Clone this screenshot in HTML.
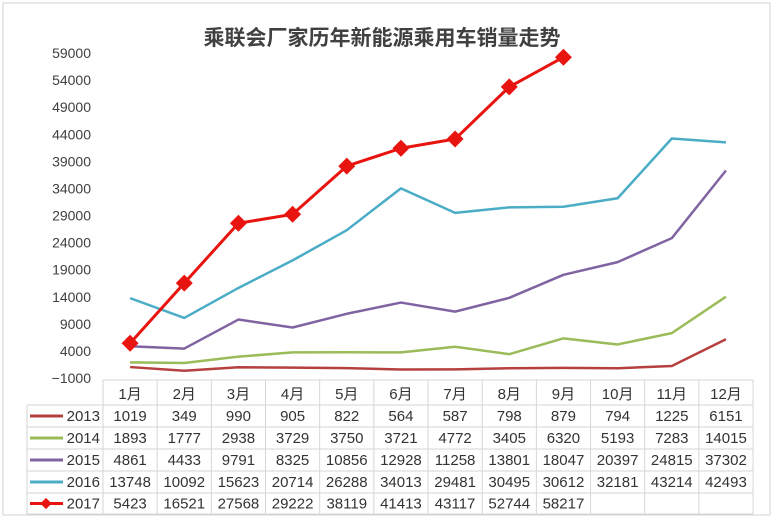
<!DOCTYPE html>
<html><head><meta charset="utf-8"><style>
body{margin:0;background:#fff;font-family:"Liberation Sans","Noto Sans CJK SC",sans-serif;}
svg{display:block}
</style></head><body>
<svg id="c" width="774" height="520">
<rect x="3" y="3" width="767" height="512" fill="#fff" stroke="#d0d0d0"/>
<text x="382" y="45" text-anchor="middle" font-size="21" font-weight="bold" fill="#404040" font-family="'Noto Sans CJK SC',sans-serif">乘联会厂家历年新能源乘用车销量走势</text>
<g id="yaxis"></g><g id="table"></g><g id="lines"></g>
</svg>
<script>
const months=["1月","2月","3月","4月","5月","6月","7月","8月","9月","10月","11月","12月"];
const seriesNames=["2013","2014","2015","2016","2017"];
const colors=["#b5403f","#9bbb59","#8064a2","#4bacc6","#e8140f"];
const s2013=[1019,349,990,905,822,564,587,798,879,794,1225,6151];
const s2014=[1893,1777,2938,3729,3750,3721,4772,3405,6320,5193,7283,14015];
const s2015=[4861,4433,9791,8325,10856,12928,11258,13801,18047,20397,24815,37302];
const s2016=[13748,10092,15623,20714,26288,34013,29481,30495,30612,32181,43214,42493];
const s2017=[5423,16521,27568,29222,38119,41413,43117,52744,58217];
const yTicks=[-1000,4000,9000,14000,19000,24000,29000,34000,39000,44000,49000,54000,59000];
const allSeries=[s2013,s2014,s2015,s2016,s2017];
const NS="http://www.w3.org/2000/svg";
const yMin=-1000,yMax=59000,plotTop=53,plotBot=378;
const colW=54.17,tblX=103,legX=27;
function y(v){return plotBot-(v-yMin)/(yMax-yMin)*(plotBot-plotTop);}
function x(i){return tblX+colW*(i+0.5);}
function mk(tag,attrs,parent){const e=document.createElementNS(NS,tag);for(const k in attrs)e.setAttribute(k,attrs[k]);parent.appendChild(e);return e;}
const ya=document.getElementById('yaxis');
yTicks.forEach(t=>{const e=mk('text',{x:91,y:y(t)+5,'text-anchor':'end','font-size':14,fill:'#404040'},ya);


e.textContent=(t<0?'−':'')+Math.abs(t);});
const tb=document.getElementById('table');
const rowH=[380,405,427,449,471,493,514];
const g=mk('g',{stroke:'#d6d6d6','stroke-width':1,fill:'none'},tb);
mk('line',{x1:tblX,y1:rowH[0],x2:tblX+12*colW,y2:rowH[0]},g);
for(let r=1;r<rowH.length;r++)mk('line',{x1:legX,y1:rowH[r],x2:tblX+12*colW,y2:rowH[r]},g);
mk('line',{x1:legX,y1:rowH[1],x2:legX,y2:rowH[6]},g);
for(let c=0;c<=12;c++)mk('line',{x1:tblX+c*colW,y1:rowH[0],x2:tblX+c*colW,y2:rowH[6]},g);
months.forEach((m,i)=>{const e=mk('text',{x:x(i),y:399,'text-anchor':'middle','font-size':15,fill:'#333'},tb);


e.textContent=m;});
seriesNames.forEach((n,r)=>{const cy=(rowH[r+1]+rowH[r+2])/2;
const lg=mk('g',{},tb);


mk('line',{x1:30,y1:cy,x2:63,y2:cy,stroke:colors[r],'stroke-width':3},lg);
if(r===4)mk('rect',{x:42,y:cy-4,width:8,height:8,fill:colors[r],transform:`rotate(45 46 ${cy})`},lg);
const t=mk('text',{x:100,y:cy+5,'text-anchor':'end','font-size':15,fill:'#333'},lg);t.textContent=n;
allSeries[r].forEach((v,i)=>{const e=mk('text',{x:x(i),y:cy+5,'text-anchor':'middle','font-size':15,fill:'#333'},tb);


e.textContent=v;});});
const ln=document.getElementById('lines');
allSeries.forEach((s,r)=>{const p=mk('polyline',{points:s.map((v,i)=>x(i)+','+y(v)).join(' '),fill:'none',stroke:colors[r],'stroke-width':r===4?3:2.5,'stroke-linejoin':'round'},ln);


if(r===4)s.forEach((v,i)=>{const d=mk('rect',{x:x(i)-6,y:y(v)-6,width:12,height:12,fill:colors[r],transform:`rotate(45 ${x(i)} ${y(v)})`},ln);

});});
</script>
</body></html>
